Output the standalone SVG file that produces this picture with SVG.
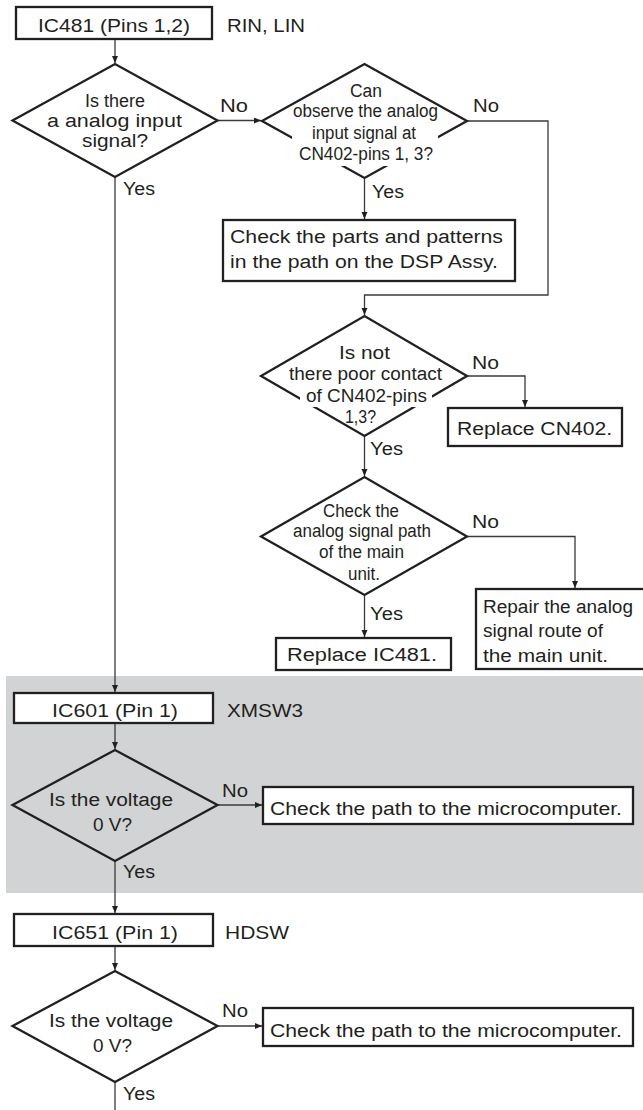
<svg xmlns="http://www.w3.org/2000/svg" width="643" height="1110" viewBox="0 0 643 1110">
<style>
.bg{fill:#fff}
.panel{fill:#d1d3d5}
.box{fill:#fff;stroke:#231f20;stroke-width:2.3}
.dia{fill:none;stroke:#231f20;stroke-width:2.3;stroke-linejoin:miter}
.diaw{fill:#fff;stroke:#231f20;stroke-width:2.3;stroke-linejoin:miter}
.gap{fill:#fff;stroke:none}
.con{fill:none;stroke:#3a3a3a;stroke-width:1.3}
text{font-family:"Liberation Sans",Arial,sans-serif;font-size:18px;fill:#231f20}
</style>
<defs>
<marker id="arr" markerUnits="userSpaceOnUse" markerWidth="8" markerHeight="7" refX="7" refY="3" orient="auto">
<path d="M0,0 L7,3 L0,6 z" fill="#231f20"/>
</marker>
</defs>
<rect class="bg" x="0" y="0" width="643" height="1110"/>
<rect class="panel" x="6" y="676" width="640" height="217"/>

<g id="connectors">
<path class="con" d="M115,40 V63" marker-end="url(#arr)"/>
<path class="con" d="M218,120.5 H261" marker-end="url(#arr)"/>
<path class="con" d="M115,177 V692" marker-end="url(#arr)"/>
<path class="con" d="M364.5,179 V219" marker-end="url(#arr)"/>
<path class="con" d="M468,121 H548 V295 H364.5 V315" marker-end="url(#arr)"/>
<path class="con" d="M468,376 H525 V407" marker-end="url(#arr)"/>
<path class="con" d="M364.5,437 V476" marker-end="url(#arr)"/>
<path class="con" d="M468,536.5 H575 V588" marker-end="url(#arr)"/>
<path class="con" d="M364.5,596 V637" marker-end="url(#arr)"/>
<path class="con" d="M115,724 V749" marker-end="url(#arr)"/>
<path class="con" d="M218,805 H262" marker-end="url(#arr)"/>
<path class="con" d="M115,861 V913" marker-end="url(#arr)"/>
<path class="con" d="M115,947 V970" marker-end="url(#arr)"/>
<path class="con" d="M218,1026 H262" marker-end="url(#arr)"/>
<path class="con" d="M115,1082 V1110"/>
<text x="220" y="112" textLength="28" lengthAdjust="spacingAndGlyphs">No</text>
<text x="123" y="195" textLength="32" lengthAdjust="spacingAndGlyphs">Yes</text>
<text x="473" y="112" textLength="26" lengthAdjust="spacingAndGlyphs">No</text>
<text x="372" y="198" textLength="32" lengthAdjust="spacingAndGlyphs">Yes</text>
<text x="472" y="369" textLength="27" lengthAdjust="spacingAndGlyphs">No</text>
<text x="370" y="455" textLength="33" lengthAdjust="spacingAndGlyphs">Yes</text>
<text x="472" y="528" textLength="27" lengthAdjust="spacingAndGlyphs">No</text>
<text x="370" y="620" textLength="33" lengthAdjust="spacingAndGlyphs">Yes</text>
<text x="222" y="797" textLength="26" lengthAdjust="spacingAndGlyphs">No</text>
<text x="123" y="878" textLength="32" lengthAdjust="spacingAndGlyphs">Yes</text>
<text x="222" y="1017" textLength="26" lengthAdjust="spacingAndGlyphs">No</text>
<text x="123" y="1100" textLength="32" lengthAdjust="spacingAndGlyphs">Yes</text>
</g>

<g id="n-ic481">
<rect class="box" x="16" y="7" width="196" height="32"/>
<text x="38" y="32" textLength="152" lengthAdjust="spacingAndGlyphs">IC481 (Pins 1,2)</text>
<text x="227" y="32" textLength="78" lengthAdjust="spacingAndGlyphs">RIN, LIN</text>
</g>

<g id="n-d1">
<polygon class="diaw" points="12.5,120.5 115,64 217.5,120.5 115,177"/>
<text x="85" y="107" textLength="60" lengthAdjust="spacingAndGlyphs">Is there</text>
<text x="47" y="126.7" textLength="135" lengthAdjust="spacingAndGlyphs">a analog input</text>
<text x="82" y="146.7" textLength="66" lengthAdjust="spacingAndGlyphs">signal?</text>
</g>

<g id="n-d2">
<polygon class="diaw" points="262,121 364.5,64 467,121 364.5,178"/>
<rect class="gap" x="292" y="126" width="146" height="19"/>
<rect class="gap" x="297" y="145" width="140" height="21"/>
<text x="350" y="96.7" textLength="32" lengthAdjust="spacingAndGlyphs">Can</text>
<text x="293" y="117" textLength="145" lengthAdjust="spacingAndGlyphs">observe the analog</text>
<text x="312" y="139" textLength="104" lengthAdjust="spacingAndGlyphs">input signal at</text>
<text x="299" y="160" textLength="134" lengthAdjust="spacingAndGlyphs">CN402-pins 1, 3?</text>
</g>

<g id="n-checkparts">
<rect class="box" x="223" y="220" width="292" height="61"/>
<text x="230" y="243" textLength="273" lengthAdjust="spacingAndGlyphs">Check the parts and patterns</text>
<text x="230" y="268" textLength="268" lengthAdjust="spacingAndGlyphs">in the path on the DSP Assy.</text>
</g>

<g id="n-d3">
<polygon class="diaw" points="261,376 364.5,316 467,376 364.5,436"/>
<rect class="gap" x="300" y="388" width="132" height="19"/>
<text x="339" y="359" textLength="51" lengthAdjust="spacingAndGlyphs">Is not</text>
<text x="289" y="380" textLength="153" lengthAdjust="spacingAndGlyphs">there poor contact</text>
<text x="306" y="402" textLength="121" lengthAdjust="spacingAndGlyphs">of CN402-pins</text>
<text x="345" y="423" textLength="31" lengthAdjust="spacingAndGlyphs">1,3?</text>
</g>

<g id="n-replacecn402">
<rect class="box" x="448" y="408" width="174" height="38"/>
<text x="457" y="435" textLength="155" lengthAdjust="spacingAndGlyphs">Replace CN402.</text>
</g>

<g id="n-d4">
<polygon class="diaw" points="261,536.5 364.5,477 467,536.5 364.5,595"/>
<text x="323" y="516.5" textLength="76" lengthAdjust="spacingAndGlyphs">Check the</text>
<text x="293" y="537" textLength="138" lengthAdjust="spacingAndGlyphs">analog signal path</text>
<text x="319" y="558" textLength="85" lengthAdjust="spacingAndGlyphs">of the main</text>
<text x="348" y="580" textLength="32" lengthAdjust="spacingAndGlyphs">unit.</text>
</g>

<g id="n-replaceic481">
<rect class="box" x="276" y="638" width="175" height="32"/>
<text x="287" y="661" textLength="150" lengthAdjust="spacingAndGlyphs">Replace IC481.</text>
</g>

<g id="n-repair">
<rect class="box" x="476" y="589" width="180" height="80"/>
<text x="483" y="613" textLength="150" lengthAdjust="spacingAndGlyphs">Repair the analog</text>
<text x="483" y="637" textLength="120" lengthAdjust="spacingAndGlyphs">signal route of</text>
<text x="483" y="662" textLength="125" lengthAdjust="spacingAndGlyphs">the main unit.</text>
</g>

<g id="n-ic601">
<rect class="box" x="14" y="693" width="199" height="30"/>
<text x="52" y="717" textLength="126" lengthAdjust="spacingAndGlyphs">IC601 (Pin 1)</text>
<text x="227" y="717" textLength="76" lengthAdjust="spacingAndGlyphs">XMSW3</text>
</g>

<g id="n-d5">
<polygon class="dia" points="12.5,805 115,750 217.5,805 115,861"/>
<text x="49" y="806" textLength="124" lengthAdjust="spacingAndGlyphs">Is the voltage</text>
<text x="93" y="831" textLength="39" lengthAdjust="spacingAndGlyphs">0 V?</text>
</g>

<g id="n-check1">
<rect class="box" x="263" y="787" width="370" height="37"/>
<text x="270" y="815" textLength="352" lengthAdjust="spacingAndGlyphs">Check the path to the microcomputer.</text>
</g>

<g id="n-ic651">
<rect class="box" x="14" y="914" width="199" height="32"/>
<text x="52" y="939" textLength="126" lengthAdjust="spacingAndGlyphs">IC651 (Pin 1)</text>
<text x="225" y="939" textLength="64" lengthAdjust="spacingAndGlyphs">HDSW</text>
</g>

<g id="n-d6">
<polygon class="diaw" points="12.5,1026 115,971 217.5,1026 115,1082"/>
<text x="49" y="1027" textLength="124" lengthAdjust="spacingAndGlyphs">Is the voltage</text>
<text x="93" y="1052" textLength="39" lengthAdjust="spacingAndGlyphs">0 V?</text>
</g>

<g id="n-check2">
<rect class="box" x="263" y="1008" width="370" height="38"/>
<text x="270" y="1037" textLength="352" lengthAdjust="spacingAndGlyphs">Check the path to the microcomputer.</text>
</g>
</svg>
